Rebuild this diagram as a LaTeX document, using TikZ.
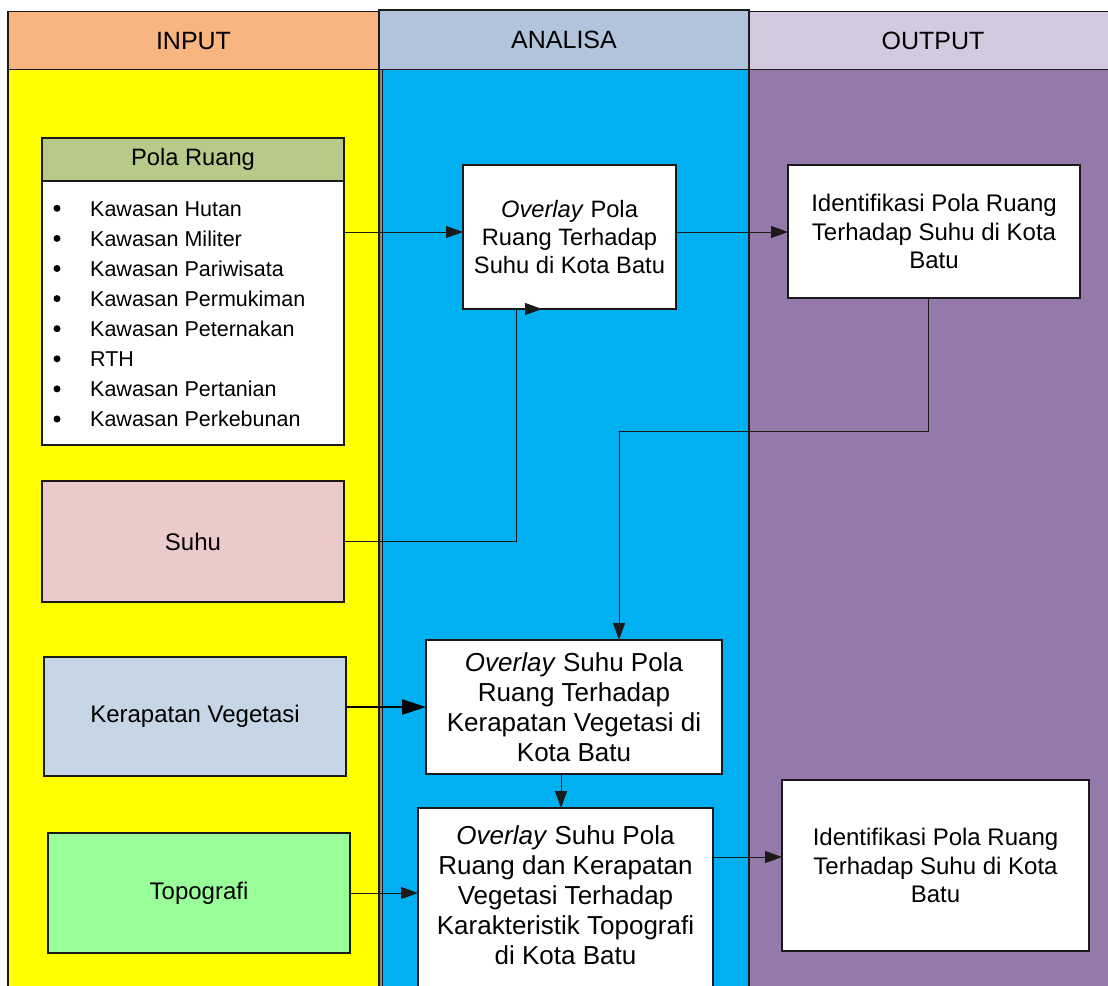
\documentclass[tikz,border=0pt]{standalone}
\usepackage{fontspec}
\setmainfont{Liberation Sans}
\usetikzlibrary{arrows.meta}
\definecolor{linec}{HTML}{1A1A1A}
\definecolor{hin}{HTML}{F8B580}
\definecolor{han}{HTML}{B1C4DC}
\definecolor{hout}{HTML}{D3CADF}
\definecolor{cin}{HTML}{FFFF00}
\definecolor{can}{HTML}{00B0F0}
\definecolor{cout}{HTML}{947AAB}
\definecolor{cpola}{HTML}{B7CA89}
\definecolor{csuhu}{HTML}{EBCBC9}
\definecolor{cker}{HTML}{C6D6E6}
\definecolor{ctopo}{HTML}{99FF99}
\definecolor{sepgray}{HTML}{8C8C8C}
\begin{document}
\begin{tikzpicture}[x=1pt,y=-1pt,
  col/.style={draw=linec, line width=1.2pt, anchor=north west, inner sep=0pt, outer sep=0pt},
  head/.style={col, font=\fontsize{25}{30}\selectfont},
  box/.style={draw=linec, line width=1.2pt, fill=white, anchor=north west, inner sep=0pt, outer sep=0pt, align=center},
  ftA/.style={font=\fontsize{23.7}{28}\selectfont},
  ftB/.style={font=\fontsize{26}{30}\selectfont},
  ftC/.style={font=\fontsize{24}{28.5}\selectfont},
  item/.style={anchor=base west, inner sep=0pt, font=\fontsize{21.5}{25}\selectfont},
  bullet/.style={circle, fill=black, inner sep=0pt, minimum size=7pt},
  conn/.style={draw=linec, line width=1pt, -{Triangle[length=17pt,width=12pt]}},
  thickconn/.style={draw=black, line width=2.6pt, -{Triangle[length=24pt,width=15pt]}}
]
\useasboundingbox (0,0) rectangle (1108,985);
\fill[white] (0,0) rectangle (1108,985);
% column bodies
\node[col, fill=cin, minimum width=371pt, minimum height=960pt] (inbody) at (8,69.7) {};
\node[col, fill=can, minimum width=370pt, minimum height=960pt] (anbody) at (379,69.7) {};
\node[col, fill=cout, minimum width=368pt, minimum height=960pt] (outbody) at (749,69.7) {};
\draw[sepgray, line width=2pt] ([xshift=2pt]inbody.north east) -- ([xshift=2pt]inbody.south east);
\draw[linec, line width=1pt] ([xshift=3.4pt]inbody.north east) -- ([xshift=3.4pt]inbody.south east);
% headers
\node[head, fill=hin, minimum width=371pt, minimum height=58pt] (inhead) at (8,11.7) {INPUT};
\node[head, fill=han, minimum width=370pt, minimum height=59.7pt] (anhead) at (379,10) {ANALISA};
\node[head, fill=hout, minimum width=368pt, minimum height=58pt] (outhead) at (749,11.7) {OUTPUT};
\draw[linec, line width=2.2pt] (anhead.north west) -- (anhead.north east);

% Pola Ruang box
\node[box, fill=cpola, minimum width=302pt, minimum height=43pt, ftA] (polah) at (42,138) {Pola Ruang};
\node[box, minimum width=302pt, minimum height=264pt] (polab) at (42,181) {};
\foreach \t [count=\i from 0] in {Kawasan Hutan,Kawasan Militer,Kawasan Pariwisata,Kawasan Permukiman,Kawasan Peternakan,RTH,Kawasan Pertanian,Kawasan Perkebunan}{
  \node[bullet] (b\i) at (57,{208.3+30.1*\i}) {};
  \node[item] (it\i) at (90,{216+30.1*\i}) {\t};
}

% other input boxes
\node[box, fill=csuhu, minimum width=302pt, minimum height=121pt, ftC] (suhu) at (42,481) {Suhu};
\node[box, fill=cker, minimum width=302pt, minimum height=119pt, ftC] (ker) at (44,657) {Kerapatan Vegetasi};
\node[box, fill=ctopo, minimum width=302pt, minimum height=120pt, ftC] (topo) at (48,833) {Topografi};

% analysis boxes
\node[box, minimum width=213pt, minimum height=144pt, ftA] (a1) at (463,165)
  {\textit{Overlay} Pola\\Ruang Terhadap\\Suhu di Kota Batu};
\node[box, minimum width=296pt, minimum height=134pt, ftB] (a2) at (426,640)
  {\textit{Overlay} Suhu Pola\\Ruang Terhadap\\Kerapatan Vegetasi di\\Kota Batu};
\fill[white] (418,808) rectangle (713,1000);
\node[box, draw=none, fill=none, minimum width=295pt, minimum height=174pt, ftB] (a3) at (418,808)
  {\textit{Overlay} Suhu Pola\\Ruang dan Kerapatan\\Vegetasi Terhadap\\Karakteristik Topografi\\di Kota Batu};
\draw[linec, line width=1.2pt] ([yshift=-30pt]a3.south west) -- (a3.north west) -- (a3.north east) -- ([yshift=-30pt]a3.south east);

% output boxes
\node[box, minimum width=292pt, minimum height=133pt, ftC] (o1) at (788,165)
  {Identifikasi Pola Ruang\\Terhadap Suhu di Kota\\Batu};
\node[box, minimum width=307pt, minimum height=171pt, ftC] (o2) at (782,780)
  {Identifikasi Pola Ruang\\Terhadap Suhu di Kota\\Batu};

% connectors
\coordinate (a1in) at ([yshift=5pt]a1.west);
\draw[conn] (polab.east |- a1in) -- (a1in);
\coordinate (a1out) at ([yshift=5pt]a1.east);
\draw[conn] (a1out) -- (a1out -| o1.west);
\coordinate (s1) at ([xshift=-53.5pt]a1.south);
\coordinate (s2) at ([xshift=-27.5pt]a1.south);
\draw[conn] (suhu.east) -| (s1) -- (s2);
\coordinate (o1d) at ([xshift=-6pt]o1.south);
\coordinate (a2t) at ([xshift=45pt]a2.north);
\draw[conn] (o1d) -- ++(0,133) -| (a2t);
\draw[thickconn] (ker.east |- a2.west) -- (a2.west);
\coordinate (a2b) at ([xshift=-13pt]a2.south);
\draw[conn] (a2b) -- (a2b |- a3.north);
\draw[conn] (topo.east) -- (topo.east -| a3.west);
\coordinate (o2in) at ([yshift=8.5pt]o2.west);
\draw[conn] (o2in -| a3.east) -- (o2in);
\end{tikzpicture}
\end{document}
